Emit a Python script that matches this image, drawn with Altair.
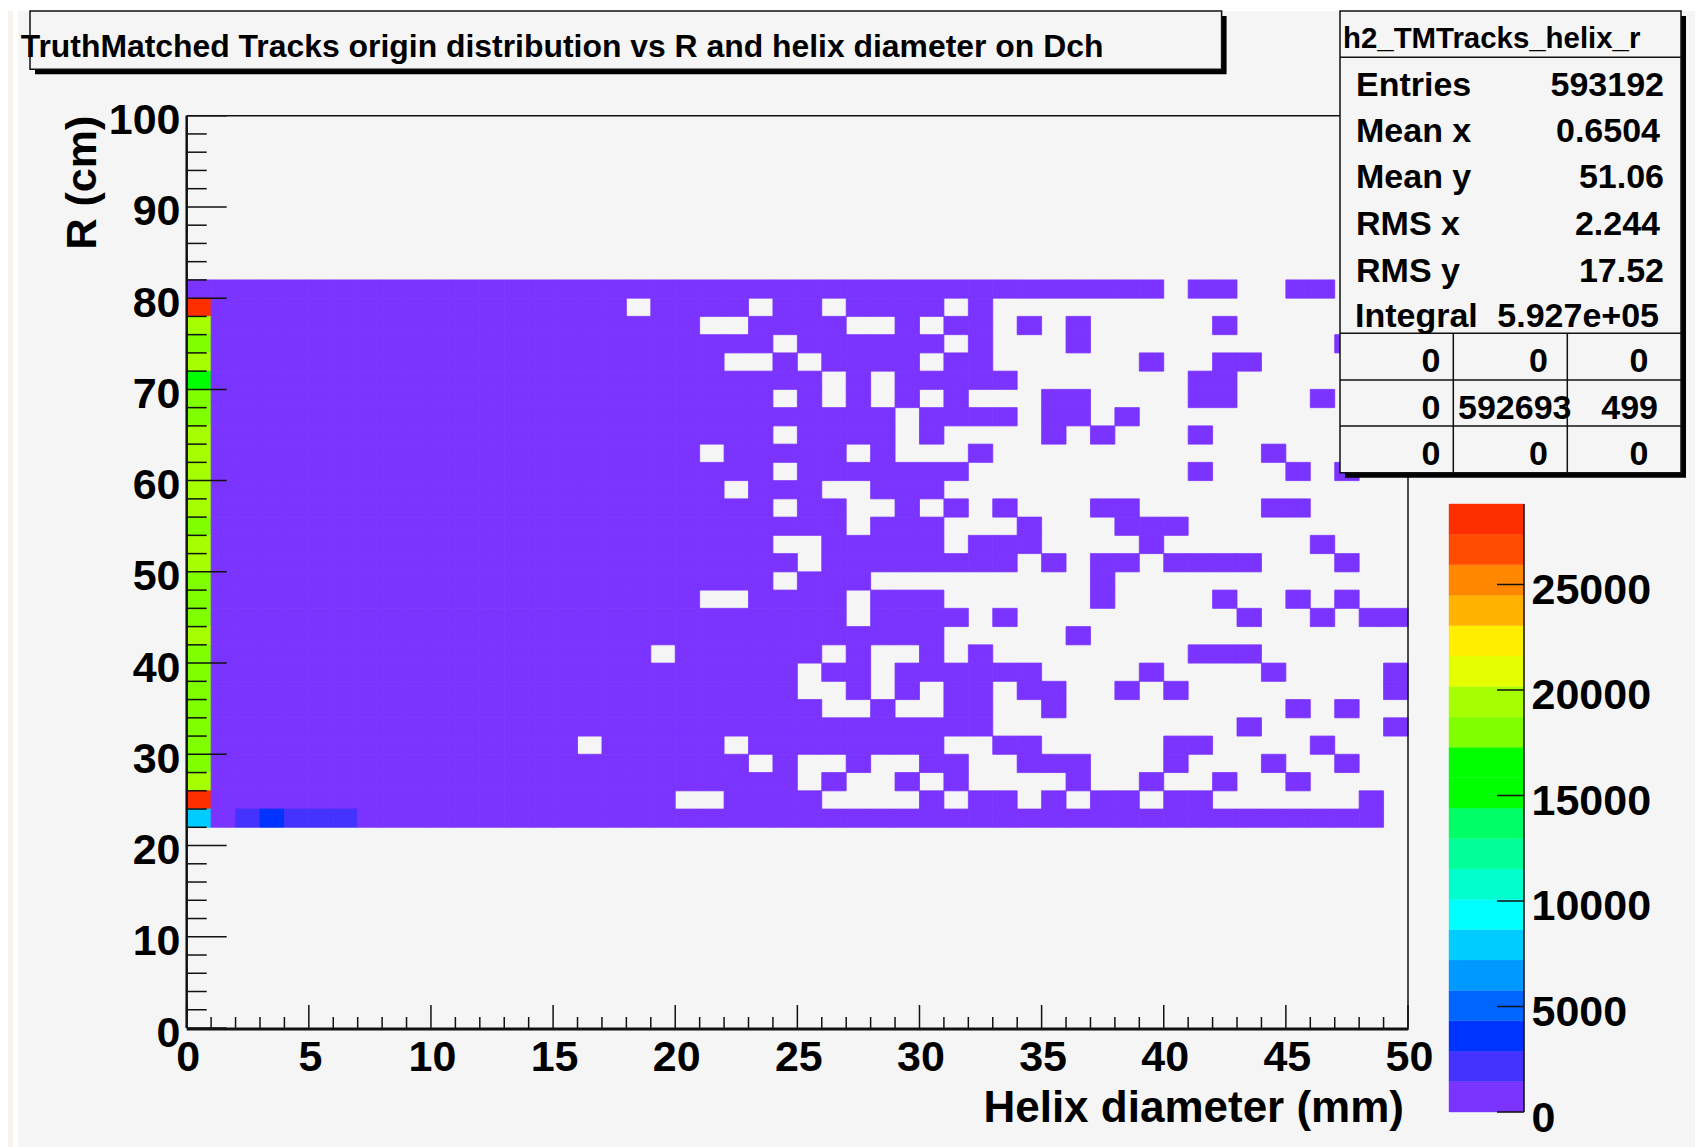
import altair as alt
import pandas as pd

FONT = "Liberation Sans"
BG = "#f5f5f5"
LINE = "#111111"

# colour bands, bottom to top
PALETTE = ["#7b33ff", "#4433ff", "#0033ff", "#0066ff", "#0099ff", "#00ccff", "#00ffff",
           "#00ffcc", "#00ff99", "#00ff66", "#00ff00", "#00ff00", "#7fff00", "#a6ff00",
           "#e5ff00", "#ffee00", "#ffb300", "#ff8800", "#ff4c00", "#ff2e00"]
Z_MAX = 28815
Z_TICKS = [0, 5000, 10000, 15000, 20000, 25000]

# occupancy, row by row from R = 80-82 down to R = 22-24
EMPTY_BELOW_33 = [
    [], [18, 23, 26, 31], [21, 22, 27, 28, 30], [24, 31], [22, 23, 25, 30],
    [26, 28], [24, 26, 28, 30, 32], [29], [24, 29, 31, 32], [21, 27, 29, 30, 31],
    [24, 32], [22, 26, 27, 31, 32], [24, 27, 28, 30, 32], [27, 31, 32], [24, 25, 31],
    [25], [24, 28, 29, 30, 31, 32], [21, 22, 27, 31, 32], [27, 32], [31, 32],
    [19, 26, 28, 29, 31], [25, 28], [25, 26, 28, 30], [26, 27, 29, 30], [],
    [16, 22, 31, 32], [23, 25, 26, 28, 29, 32], [25, 27, 28, 30, 32],
    [20, 21, 26, 27, 28, 29, 31], [],
]
FILLED_FROM_33 = [
    [33, 34, 35, 36, 37, 38, 39, 41, 42, 45, 46], [], [34, 36, 42], [36, 47], [39, 42, 43],
    [33, 41, 42], [35, 36, 41, 42, 46], [33, 35, 36, 38], [35, 37, 41], [44],
    [41, 45, 47], [], [33, 37, 38, 44, 45], [34, 38, 39, 40], [33, 34, 39, 46],
    [33, 35, 37, 38, 40, 41, 42, 43, 47], [37], [37, 42, 45, 47], [33, 43, 46, 48, 49], [36],
    [41, 42, 43], [33, 34, 39, 44, 49], [34, 35, 38, 40, 49], [35, 45, 47], [43, 49],
    [33, 34, 40, 41, 46], [34, 35, 36, 40, 44, 47], [36, 39, 42, 45],
    [33, 35, 37, 38, 40, 41, 48],
    [33, 34, 35, 36, 37, 38, 39, 40, 41, 42, 43, 44, 45, 46, 47, 48],
]
# first column (helix diameter 0-1), same row order
FIRST_COLUMN = [500, 28000, 19500, 18000, 19500, 15500, 18000, 18000, 19500, 19500,
                19500, 19500, 19500, 18000, 19500, 19500, 18000, 18000, 18000, 19500,
                18000, 18000, 18000, 18000, 18000, 18000, 18000, 19500, 28000, 8000]
# readable cells of the lowest row (R = 22-24)
LOWEST_ROW = {2: 2000, 3: 3500, 4: 2000, 5: 2000, 6: 2000}
BULK_COUNT = 30

Y_MAJOR = [0, 10, 20, 30, 40, 50, 60, 70, 80, 90, 100]
Y_MINOR = [2, 4, 6, 8, 12, 14, 16, 18, 22, 24, 26, 28, 32, 34, 36, 38, 42, 44, 46, 48,
           52, 54, 56, 58, 62, 64, 66, 68, 72, 74, 76, 78, 82, 84, 86, 88, 92, 94, 96, 98]
X_MAJOR = [0, 5, 10, 15, 20, 25, 30, 35, 40, 45, 50]
X_MINOR = [1, 2, 3, 4, 6, 7, 8, 9, 11, 12, 13, 14, 16, 17, 18, 19, 21, 22, 23, 24,
           26, 27, 28, 29, 31, 32, 33, 34, 36, 37, 38, 39, 41, 42, 43, 44, 46, 47, 48, 49]

W, H = 1687, 1139
PX0, PX1 = 178.7, 1400
PY0, PY1 = 1020, 107.7
BX0, BX1 = 1441, 1516
BY0, BY1 = 1104, 496

cells = []
for r in range(30):
    hi, lo = 82 - 2 * r, 80 - 2 * r
    for j in range(50):
        if j == 0:
            c = FIRST_COLUMN[r]
        elif (j < 33 and j not in EMPTY_BELOW_33[r]) or (j >= 33 and j in FILLED_FROM_33[r]):
            c = LOWEST_ROW.get(j, BULK_COUNT) if r == 29 else BULK_COUNT
        else:
            continue
        cells.append(dict(x=j, x2=j + 1, y=lo, y2=hi, count=c))
cells = pd.DataFrame(cells)

step = Z_MAX / len(PALETTE)
bands = pd.DataFrame([dict(lo=i * step, hi=(i + 1) * step, count=(i + 0.5) * step)
                      for i in range(len(PALETTE))])
thresholds = [(i + 1) * step for i in range(len(PALETTE) - 1)]

xs = alt.Scale(domain=[0, 50], range=[PX0, PX1], nice=False, zero=False)
ys = alt.Scale(domain=[0, 100], range=[PY0, PY1], nice=False, zero=False)
zs = alt.Scale(domain=[0, Z_MAX], range=[BY0, BY1], nice=False, zero=False)
cs = alt.Scale(type="threshold", domain=thresholds, range=PALETTE)

lab = dict(labelFont=FONT, labelFontWeight="bold", labelFontSize=43, labelColor="black",
           ticks=False, domain=False, grid=False, title=None, labelPadding=0,
           labelOverlap=False, labelFlush=False, labelBound=False, format="d")

heat = alt.Chart(cells).mark_rect(strokeWidth=0.8).encode(
    x=alt.X("x:Q", scale=xs, axis=alt.Axis(orient="bottom", offset=-(H - 1028), values=X_MAJOR,
                                           labelAlign="center", labelBaseline="top", labelOffset=1, **lab)),
    x2="x2:Q",
    y=alt.Y("y:Q", scale=ys, axis=alt.Axis(orient="left", offset=-172, values=Y_MAJOR,
                                           labelAlign="right", labelBaseline="middle", labelOffset=5, **lab)),
    y2="y2:Q",
    color=alt.Color("count:Q", scale=cs, legend=None),
    stroke=alt.Stroke("count:Q", scale=cs, legend=None),
)

bar = alt.Chart(bands).mark_rect(strokeWidth=0.4).encode(
    x=alt.value(BX0), x2=alt.value(BX1),
    y=alt.Y("lo:Q", scale=zs, axis=alt.Axis(orient="right", offset=-(W - 1523), values=Z_TICKS,
                                            labelAlign="left", labelBaseline="middle", labelOffset=6, **lab)),
    y2="hi:Q",
    color=alt.Color("count:Q", scale=cs, legend=None),
    stroke=alt.Stroke("count:Q", scale=cs, legend=None),
)


def yticks(values, length):
    return alt.Chart(pd.DataFrame({"v": values})).mark_rule(color=LINE, strokeWidth=1.5).encode(
        y=alt.Y("v:Q", scale=ys, axis=None), x=alt.value(PX0), x2=alt.value(PX0 + length))


def xticks(values, length):
    return alt.Chart(pd.DataFrame({"v": values})).mark_rule(color=LINE, strokeWidth=1.5).encode(
        x=alt.X("v:Q", scale=xs, axis=None), y=alt.value(PY0), y2=alt.value(PY0 - length))


ztick = alt.Chart(pd.DataFrame({"v": Z_TICKS})).mark_rule(color=LINE, strokeWidth=1.5).encode(
    y=alt.Y("v:Q", scale=zs, axis=None), x=alt.value(BX1 - 27), x2=alt.value(BX1))


def hline(x0, x1, y, w=1.5, color=LINE):
    return alt.Chart().mark_rule(color=color, strokeWidth=w).encode(
        x=alt.value(x0), x2=alt.value(x1), y=alt.value(y))


def vline(x, y0, y1, w=1.5, color=LINE):
    return alt.Chart().mark_rule(color=color, strokeWidth=w).encode(
        x=alt.value(x), y=alt.value(y0), y2=alt.value(y1))


def box(x0, y0, x1, y1, fill, stroke=None, w=1.5):
    kw = dict(fill=fill)
    if stroke:
        kw.update(stroke=stroke, strokeWidth=w)
    return alt.Chart().mark_rect(**kw).encode(
        x=alt.value(x0), x2=alt.value(x1), y=alt.value(y0), y2=alt.value(y1))


def text(s, x, y, size, align="left", angle=0):
    return alt.Chart().mark_text(font=FONT, fontWeight="bold", fontSize=size, color="black",
                                 align=align, baseline="alphabetic", angle=angle).encode(
        x=alt.value(x), y=alt.value(y), text=alt.value(s))


OX, OY = 8, 8
STAT = 34
layers = [
    box(0, 0, 5, H, "#f7f3ec"),
    box(5, 0, 10, H, "#ffffff"),
    box(0, 0, W, 3, "#ffffff"),
    heat, bar,
    yticks(Y_MAJOR, 40), yticks(Y_MINOR, 20), xticks(X_MAJOR, 23), xticks(X_MINOR, 11), ztick,
    vline(PX0, PY1, PY0, 2.5), hline(PX0, PX1, PY0 + 1, 3), hline(PX0, PX1, PY1), vline(PX1, PY1, PY0 + 2),
    vline(BX1, BY1, BY0),
    # title box
    box(30 - OX + 5, 11 - OY + 5, 1221.6 - OX + 5, 69.3 - OY + 5, "black"),
    box(30 - OX, 11 - OY, 1221.6 - OX, 69.3 - OY, BG, LINE),
    text("TruthMatched Tracks origin distribution vs R and helix diameter on Dch", 20.7 - OX, 56.7 - OY, 31.9),
    # stats box
    box(1340 - OX + 5, 11 - OY + 5, 1681 - OX + 5, 472.7 - OY + 5, "black"),
    box(1340 - OX, 11 - OY, 1681 - OX, 472.7 - OY, BG, LINE),
    hline(1340 - OX, 1681 - OX, 57.3 - OY), hline(1340 - OX, 1681 - OX, 333.3 - OY),
    hline(1340 - OX, 1681 - OX, 380 - OY), hline(1340 - OX, 1681 - OX, 426 - OY),
    vline(1453.3 - OX, 333.3 - OY, 472.7 - OY), vline(1567.3 - OX, 333.3 - OY, 472.7 - OY),
    text("h2_TMTracks_helix_r", 1343 - OX, 48 - OY, 29.4),
    text("Entries", 1356 - OX, 95.7 - OY, STAT), text("593192", 1664 - OX, 95.7 - OY, STAT, "right"),
    text("Mean x", 1356 - OX, 142.3 - OY, STAT), text("0.6504", 1660 - OX, 142.3 - OY, STAT, "right"),
    text("Mean y", 1356 - OX, 188.3 - OY, STAT), text("51.06", 1664 - OX, 188.3 - OY, STAT, "right"),
    text("RMS x", 1356 - OX, 235 - OY, STAT), text("2.244", 1660 - OX, 235 - OY, STAT, "right"),
    text("RMS y", 1356 - OX, 281.7 - OY, STAT), text("17.52", 1664 - OX, 281.7 - OY, STAT, "right"),
    text("Integral", 1355 - OX, 327.3 - OY, STAT), text("5.927e+05", 1659 - OX, 327.3 - OY, STAT, "right"),
    text("0", 1440.5 - OX, 371.5 - OY, STAT, "right"), text("0", 1548 - OX, 371.5 - OY, STAT, "right"),
    text("0", 1648.5 - OX, 371.5 - OY, STAT, "right"),
    text("0", 1440.5 - OX, 419 - OY, STAT, "right"), text("592693", 1571.5 - OX, 419 - OY, STAT, "right"),
    text("499", 1658 - OX, 419 - OY, STAT, "right"),
    text("0", 1440.5 - OX, 464.5 - OY, STAT, "right"), text("0", 1548 - OX, 464.5 - OY, STAT, "right"),
    text("0", 1648.5 - OX, 464.5 - OY, STAT, "right"),
    # axis titles
    text("R (cm)", 96 - OX, 249.5 - OY, 43, "left", 270),
    text("Helix diameter (mm)", 1404 - OX, 1121.7 - OY, 44, "right"),
]

chart = alt.layer(*layers).resolve_scale(x="independent", y="independent").properties(
    width=W, height=H, padding=0, background=BG,
    autosize=alt.AutoSizeParams(type="none"),
).configure_view(strokeWidth=0)

chart.save("out.html", embed_options={"renderer": "svg", "actions": False})
